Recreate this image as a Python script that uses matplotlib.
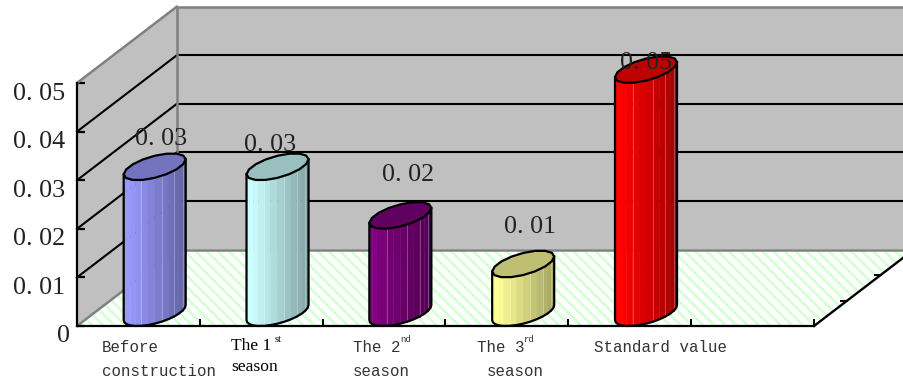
import numpy as np
import matplotlib
matplotlib.use('Agg')
import matplotlib.pyplot as plt
from matplotlib.patches import Polygon
from matplotlib.transforms import ScaledTranslation

categories = ['Before\nconstruction', 'The 1st season', 'The 2nd season', 'The 3rd season', 'Standard value']
values = [0.03, 0.03, 0.02, 0.01, 0.05]
value_labels = ['0. 03', '0. 03', '0. 02', '0. 01', '0. 05']
y_ticks = [0, 0.01, 0.02, 0.03, 0.04, 0.05]
y_tick_labels = ['0', '0. 01', '0. 02', '0. 03', '0. 04', '0. 05']
bar_colors = ['#9999ff', '#ccffff', '#800080', '#ffff99', '#ff0000']
n_slots = 6

W, H = 904, 383
plt.rcParams['hatch.linewidth'] = 2.0
fig = plt.figure(figsize=(W / 100, H / 100), dpi=100)
ax = fig.add_axes([0, 0, 1, 1])

PX = 737 / n_slots          # px per category slot
PY = 4860                   # px per unit value
X0, Y0 = 77, 326            # px position of origin
ax.set_xlim(-X0 / PX, (W - X0) / PX)
ax.set_ylim(-(H - Y0) / PY, Y0 / PY)
DX, DY = 100 / PX, 76.5 / PY  # depth vector in data units
XR = ax.get_xlim()[1]
YMAX = max(y_ticks)


def proj(x, v, d=0.0):
    return (x + d * DX, v + d * DY)


for s in ['top', 'right']:
    ax.spines[s].set_visible(False)
ax.spines['left'].set_position(('data', 0))
ax.spines['bottom'].set_position(('data', 0))
ax.spines['left'].set_bounds(0, YMAX)
ax.spines['bottom'].set_bounds(0, n_slots)
for s in ['left', 'bottom']:
    ax.spines[s].set_linewidth(1.6)
    ax.spines[s].set_zorder(8)
ax.patch.set_visible(False)

ax.set_yticks(y_ticks)
ax.set_yticklabels(y_tick_labels, fontfamily='Liberation Serif', fontsize=18.7, color='#222222')
ax.set_xticks(range(n_slots + 1))
ax.set_xticklabels([])
ax.tick_params(axis='y', direction='in', length=6, width=1.6, pad=8.5)
ax.tick_params(axis='x', direction='in', length=5, width=1.4)
for k, tl in enumerate(ax.get_yticklabels()):
    dxp = 5 if k == 0 else 0
    tl.set_transform(tl.get_transform() + ScaledTranslation(dxp / 100, -8 / 100, fig.dpi_scale_trans))
    tl.set_zorder(9)

WALL = '#c0c0c0'
EDGE = '#808080'
# back wall
back = [proj(0, 0, 1), proj(0, YMAX, 1), (XR + 1, YMAX + DY), (XR + 1, DY)]
ax.add_patch(Polygon(back, fc=WALL, ec='none', zorder=1))
# side wall
side = [proj(0, 0), proj(0, YMAX), proj(0, YMAX, 1), proj(0, 0, 1)]
ax.add_patch(Polygon(side, fc=WALL, ec='none', zorder=1))
# floor
floor = [proj(0, 0), proj(n_slots, 0), proj(n_slots, 0, 1), (XR + 1, DY), proj(0, 0, 1)]
ax.add_patch(Polygon(floor, fc='white', ec='none', zorder=1))
ax.add_patch(Polygon(floor, fc='none', ec='#d6ffd6', hatch='\\\\\\', lw=0, zorder=1.1))
# grid
for v in y_ticks[1:-1]:
    a, b = proj(0, v), proj(0, v, 1)
    ax.plot([a[0], b[0]], [a[1], b[1]], color='black', lw=1.5, zorder=2)
    ax.plot([b[0], XR + 1], [b[1], b[1]], color='black', lw=1.5, zorder=2)
# wall edges
for p, q in [(proj(0, YMAX), proj(0, YMAX, 1)), (proj(0, YMAX, 1), (XR + 1, YMAX + DY)),
             (proj(0, 0, 1), proj(0, YMAX, 1)), (proj(0, 0), proj(0, 0, 1)),
             (proj(0, 0, 1), (XR + 1, DY))]:
    ax.plot([p[0], q[0]], [p[1], q[1]], color=EDGE, lw=1.8, zorder=3, solid_capstyle='round')
# right floor edge and depth ticks
p, q = proj(n_slots, 0), proj(n_slots, 0, 1)
ax.plot([p[0], q[0]], [p[1], q[1]], color='black', lw=1.7, zorder=8)
for d in [1 / 3, 2 / 3]:
    a = proj(n_slots, 0, d)
    ax.plot([a[0] - 6 / PX, a[0]], [a[1], a[1]], color='black', lw=1.4, zorder=8)

# cylinders
RX = 25.6 / PX
RD = 0.175
T0 = np.arctan2(RD * DX, RX)
label_offsets = [(6, 14), (-7, 8), (8, 27), (7, 24), (0, -7)]


def ring(cx, base, t):
    return (cx + RD * DX + RX * np.cos(t) + RD * DX * np.sin(t), base + RD * DY + RD * DY * np.sin(t))


def shade(col, f):
    rgb = np.array(matplotlib.colors.to_rgb(col))
    return tuple(rgb * f)


for i, (v, col, lab, off) in enumerate(zip(values, bar_colors, value_labels, label_offsets)):
    cx = i + 0.49
    z = 4 + i * 0.1
    ts = np.linspace(T0 - np.pi, T0, 15)
    for k in range(len(ts) - 1):
        t1, t2 = ts[k], ts[k + 1]
        x1, y1 = ring(cx, 0, t1)
        x2, y2 = ring(cx, 0, t2)
        tp1 = ring(cx, v, t1)
        tp2 = ring(cx, v, t2)
        frac = (0.5 * (x1 + x2) - (cx + RD * DX - RX)) / (2 * RX)
        f = 1.0 - 0.33 * np.clip(frac, 0, 1)
        ax.add_patch(Polygon([(x1, y1), (x2, y2), tp2, tp1], fc=shade(col, f), ec=shade(col, f),
                             lw=0.3, zorder=z))
        if k in (4, 7, 9, 11):
            light = tuple(np.array(shade(col, f)) * 0.7 + 0.3)
            ax.plot([x2, tp2[0]], [y2, tp2[1]], color=light, lw=0.6, zorder=z + 0.01)
    xb, yb = ring(cx, 0, ts)
    xt, yt = ring(cx, v, ts)
    ax.plot(np.r_[xt[0], xb, xt[-1]], np.r_[yt[0], yb, yt[-1]], color='black', lw=1.6,
            zorder=z + 0.02, solid_joinstyle='round')
    tt = np.linspace(0, 2 * np.pi, 17) + 0.2
    xe, ye = ring(cx, v, tt)
    ax.add_patch(Polygon(np.c_[xe, ye], fc=shade(col, 0.75), ec='black', lw=1.6, zorder=z + 0.03,
                         joinstyle='round'))
    tx = cx + RD * DX
    ty = v + 2 * RD * DY
    ax.annotate(lab, (tx, ty), xytext=off, textcoords='offset pixels', ha='center', va='center',
                fontfamily='Liberation Serif', fontsize=18.7, color='#222222', zorder=7)


# category labels (pixel positioned)
def px_text(x, y, s, **kw):
    ax.text(x / W, 1 - y / H, s, transform=ax.transAxes, va='center', ha='left', **kw)


mono = dict(fontfamily='Liberation Mono', fontsize=11.3, color='#333333')
times = dict(fontfamily='Liberation Serif', fontsize=12.6, color='black')
px_text(102, 347, 'Before', **mono)
px_text(102, 372, 'construction', **mono)
px_text(231, 346, 'The 1', **times)
px_text(275, 340, 'st', fontfamily='Liberation Serif', fontsize=7.5, color='black')
px_text(231, 367, 'season', **times)
px_text(353, 347, 'The 2', **mono)
px_text(400, 340, 'nd', fontfamily='Liberation Mono', fontsize=6.5, color='#333333')
px_text(353, 372, 'season', **mono)
px_text(477, 347, 'The 3', **mono)
px_text(524, 340, 'rd', fontfamily='Liberation Mono', fontsize=6.5, color='#333333')
px_text(487, 372, 'season', **mono)
px_text(594, 347, categories[4], **mono)

fig.savefig('out.png', dpi=100)
